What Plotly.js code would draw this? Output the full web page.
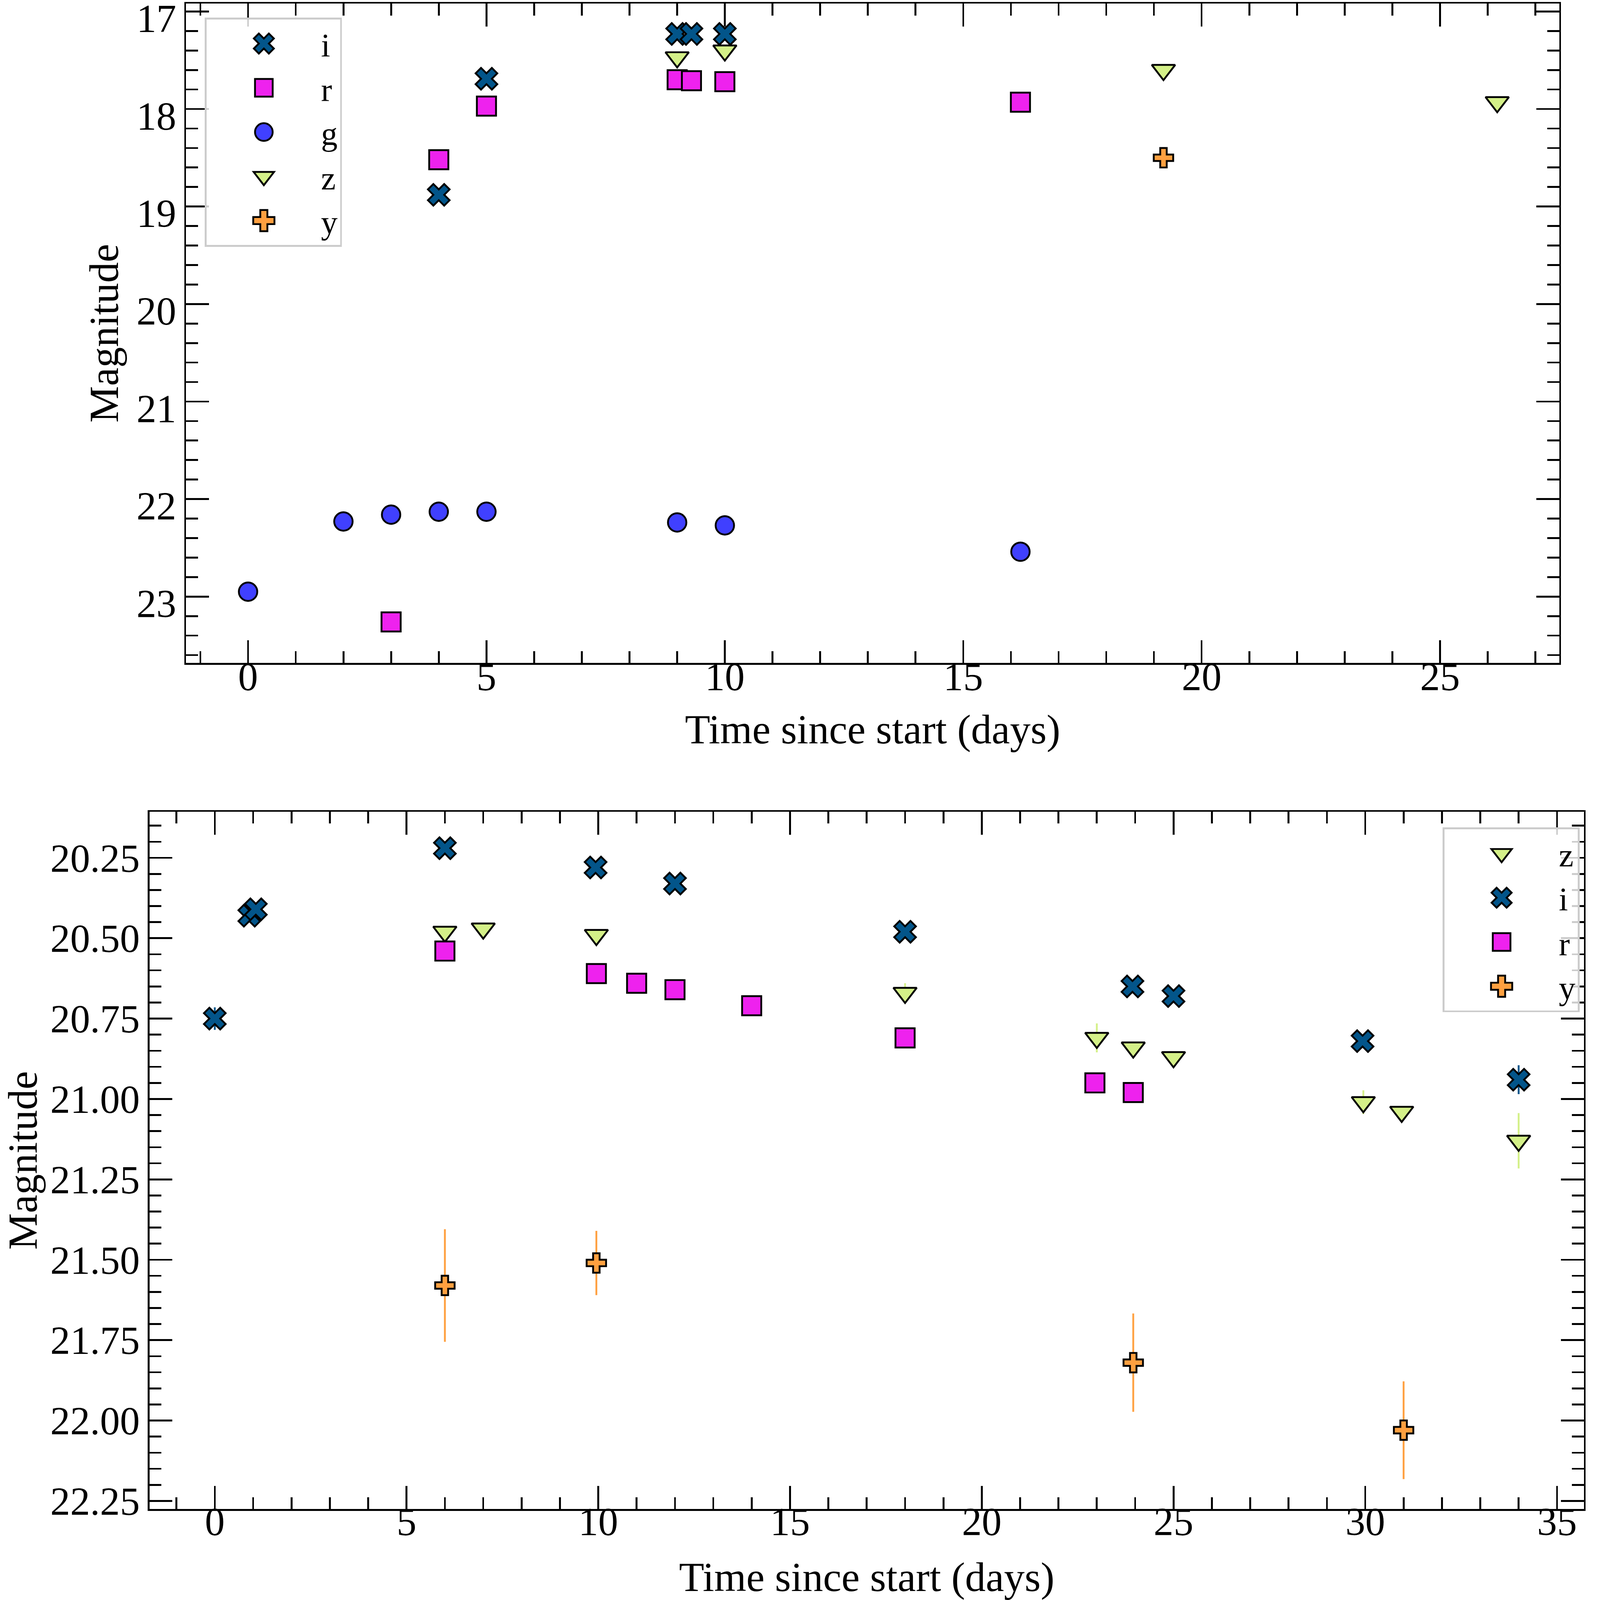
<!DOCTYPE html>
<html lang="en">
<head>
<meta charset="UTF-8">
<script src="https://cdn.plot.ly/plotly-3.0.1.min.js"></script>
<style>
  html, body { margin: 0; padding: 0; background: #fff; overflow: hidden; }
</style>
<title>Light curves</title>
</head>
<body>
<div id="chart"></div>
<script>
// ---- top panel ----
var top_i_t = [4, 5, 9, 9.3, 10]
var top_i_mag = [18.88, 17.69, 17.23, 17.23, 17.23]
var top_i_err = [0.02, 0.02, 0.02, 0.02, 0.02]

var top_r_t = [3, 4, 5, 9, 9.3, 10, 16.2]
var top_r_mag = [23.26, 18.52, 17.97, 17.70, 17.71, 17.72, 17.93]
var top_r_err = [0.1, 0.02, 0.02, 0.02, 0.02, 0.02, 0.02]

var top_g_t = [0, 2, 3, 4, 5, 9, 10, 16.2]
var top_g_mag = [22.95, 22.23, 22.16, 22.13, 22.13, 22.24, 22.27, 22.54]
var top_g_err = [0.09, 0.02, 0.02, 0.02, 0.02, 0.02, 0.02, 0.02]

var top_z_t = [9, 10, 19.2, 26.2]
var top_z_mag = [17.47, 17.40, 17.60, 17.93]
var top_z_err = [0.02, 0.02, 0.02, 0.02]

var top_y_t = [19.2]
var top_y_mag = [18.50]
var top_y_err = [0.02]

// ---- bottom panel ----
var bot_z_t = [6, 7, 9.95, 18, 23, 23.95, 25, 29.95, 30.95, 34]
var bot_z_mag = [20.48, 20.47, 20.49, 20.67, 20.81, 20.84, 20.87, 21.01, 21.04, 21.13]
var bot_z_err = [0.01, 0.01, 0.01, 0.03, 0.045, 0.01, 0.01, 0.037, 0.01, 0.086]

var bot_i_t = [0, 0.9, 1.07, 6, 9.93, 12, 18, 23.93, 25, 29.93, 34]
var bot_i_mag = [20.75, 20.43, 20.41, 20.22, 20.28, 20.33, 20.48, 20.65, 20.68, 20.82, 20.94]
var bot_i_err = [0.035, 0.01, 0.01, 0.01, 0.01, 0.01, 0.01, 0.01, 0.01, 0.01, 0.045]

var bot_r_t = [6, 9.95, 11, 12, 14, 18, 22.95, 23.95]
var bot_r_mag = [20.54, 20.61, 20.64, 20.66, 20.71, 20.81, 20.95, 20.98]
var bot_r_err = [0.01, 0.01, 0.01, 0.01, 0.01, 0.01, 0.01, 0.01]

var bot_y_t = [6, 9.95, 23.95, 31]
var bot_y_mag = [21.58, 21.51, 21.82, 22.03]
var bot_y_err = [0.175, 0.1, 0.153, 0.152]

var FONT = 'Liberation Serif, Times New Roman, serif'

// fit whatever viewport we get; everything below is sized for a 4344 px wide page
var W = window.innerWidth || 4344
var H = window.innerHeight || 5276
var k = W / 4344

var bands = {
    i: { color: '#03558a', symbol: 'x', size: 52 },
    r: { color: '#ee22ee', symbol: 'square', size: 52 },
    g: { color: '#4040ff', symbol: 'circle', size: 50 },
    z: { color: '#d4f088', symbol: 'triangle-down', size: 55 },
    y: { color: '#ffa040', symbol: 'cross', size: 44 }
}

function band(name, t, mag, err, xa, ya, leg) {
    var b = bands[name]
    return {
        x: t, y: mag, name: name, type: 'scatter', mode: 'markers',
        xaxis: xa, yaxis: ya, legend: leg,
        marker: { color: b.color, symbol: b.symbol, size: b.size * k,
                  line: { color: '#000', width: 5 * k } },
        error_y: { type: 'data', array: err, visible: true, color: b.color,
                   thickness: 5 * k, width: 0 }
    }
}

var traces = [
    band('i', top_i_t, top_i_mag, top_i_err, 'x', 'y', 'legend'),
    band('r', top_r_t, top_r_mag, top_r_err, 'x', 'y', 'legend'),
    band('g', top_g_t, top_g_mag, top_g_err, 'x', 'y', 'legend'),
    band('z', top_z_t, top_z_mag, top_z_err, 'x', 'y', 'legend'),
    band('y', top_y_t, top_y_mag, top_y_err, 'x', 'y', 'legend'),
    band('z', bot_z_t, bot_z_mag, bot_z_err, 'x2', 'y2', 'legend2'),
    band('i', bot_i_t, bot_i_mag, bot_i_err, 'x2', 'y2', 'legend2'),
    band('r', bot_r_t, bot_r_mag, bot_r_err, 'x2', 'y2', 'legend2'),
    band('y', bot_y_t, bot_y_mag, bot_y_err, 'x2', 'y2', 'legend2')
]

function axis(range, dtick, minor, domain, anchor, title, standoff, labelShift, fmt) {
    return {
        domain: domain, anchor: anchor, range: range, autorange: false,
        tick0: 0, dtick: dtick, tickformat: fmt,
        showline: true, mirror: 'allticks', linecolor: '#000', linewidth: 5 * k,
        ticks: 'inside', ticklen: 62 * k, tickwidth: 5 * k, tickcolor: '#000',
        ticklabelstandoff: Math.round(labelShift * k),   // must be an integer
        ticklabeloverflow: 'allow',
        minor: { ticks: 'inside', dtick: minor, tick0: 0, ticklen: 32 * k, tickwidth: 5 * k, tickcolor: '#000' },
        showgrid: false, zeroline: false, automargin: false,
        tickfont: { family: FONT, size: 108 * k, color: '#000' },
        title: { text: title, font: { family: FONT, size: 112 * k, color: '#000' }, standoff: standoff * k }
    }
}

var legendStyle = {
    bgcolor: 'rgba(255,255,255,0.8)', bordercolor: '#cccccc', borderwidth: 5 * k,
    font: { family: FONT, size: 90 * k, color: '#000' }, itemwidth: 300 * k
}

var topY = axis([23.68, 16.92], 1, 0.2, [0.5857, 0.9977], 'x', 'Magnitude', 14, 0)
topY.ticklabelshift = Math.round(-18 * k)   // nudge labels down so the "17" stays on the page

var layout = {
    width: W, height: H,
    margin: { l: 0, r: 0, t: 0, b: 0 },
    paper_bgcolor: '#fff', plot_bgcolor: '#fff',
    showlegend: true,
    xaxis: axis([-1.3, 27.5], 5, 1, [0.1163, 0.9745], 'y', 'Time since start (days)', 45, -60),
    yaxis: topY,
    xaxis2: axis([-1.7, 35.7], 5, 1, [0.0935, 0.9899], 'y2', 'Time since start (days)', 110, -64),
    yaxis2: axis([22.275, 20.107], 0.25, 0.05, [0.0569, 0.4926], 'x2', 'Magnitude', 40, 0, '.2f'),
    legend: Object.assign({ x: 0.128, y: 0.989, xanchor: 'left', yanchor: 'top' }, legendStyle),
    legend2: Object.assign({ x: 0.9873, y: 0.4828, xanchor: 'right', yanchor: 'top' }, legendStyle)
}

Plotly.newPlot('chart', traces, layout, { staticPlot: true }).then(function(gd) {
    // legend symbols are capped at 16px by plotly, blow them up to match the plot markers
    var s = 3 * k
    gd.querySelectorAll('.legendpoints path.scatterpts').forEach(function(p) {
        var tr = p.getAttribute('transform') || ''
        p.setAttribute('transform', tr + ' scale(' + s + ')')
        p.style.strokeWidth = (5 * k / s) + 'px'
    })
})
</script>
</body>
</html>
